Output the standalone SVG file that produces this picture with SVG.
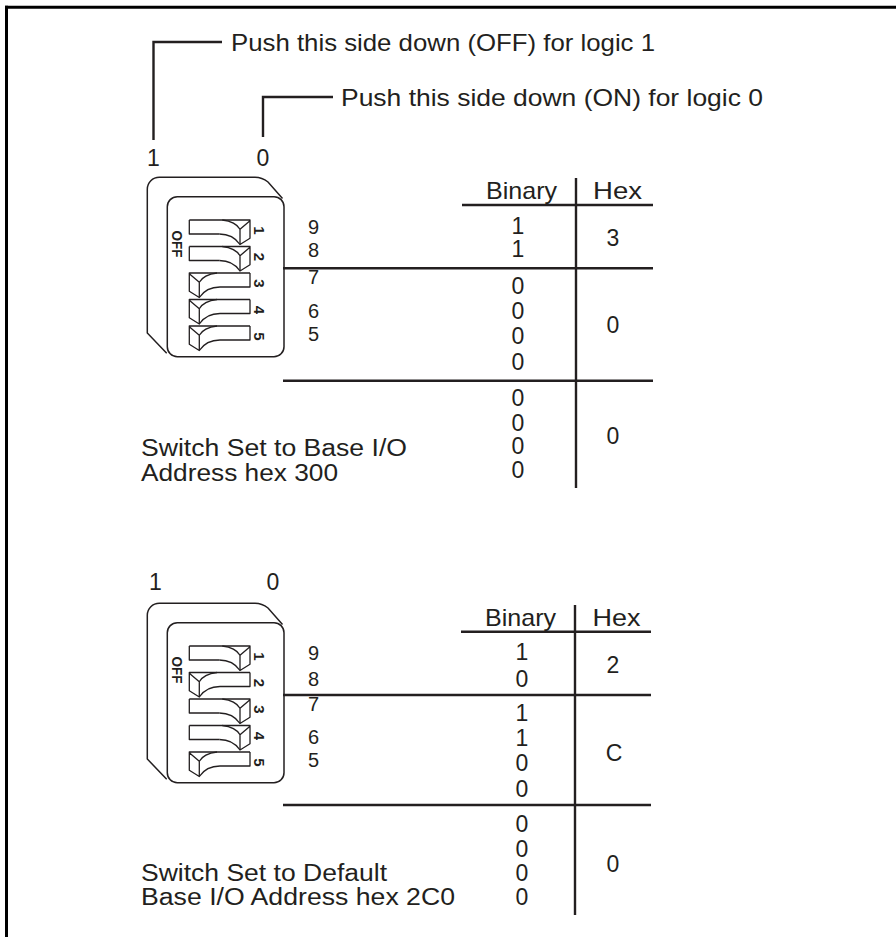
<svg xmlns="http://www.w3.org/2000/svg" xmlns:xlink="http://www.w3.org/1999/xlink" width="896" height="937" viewBox="0 0 896 937">
<style>
  .t { font-family: "Liberation Sans", Arial, Helvetica, sans-serif; font-size: 24px; fill: #231f20; }
  .c { font-family: "Liberation Sans", Arial, Helvetica, sans-serif; font-size: 23px; fill: #231f20; }
  .d { font-family: "Liberation Sans", Arial, Helvetica, sans-serif; font-size: 23px; fill: #231f20; text-anchor: middle; }
  .bit { font-family: "Liberation Sans", Arial, Helvetica, sans-serif; font-size: 20px; fill: #231f20; }
  .num { font-family: "Liberation Sans", Arial, Helvetica, sans-serif; font-size: 15px; font-weight: bold; fill: #231f20; text-anchor: middle; }
  .off { font-family: "Liberation Sans", Arial, Helvetica, sans-serif; font-size: 15px; font-weight: bold; fill: #231f20; text-anchor: middle; }
  .ln { stroke: #231f20; stroke-width: 2.4; fill: none; }
  .body { stroke: #231f20; stroke-width: 1.5; fill: none; }
  .sw { stroke: #231f20; stroke-width: 1.3; fill: none; stroke-linejoin: round; }
</style>
<defs>
  <g id="sw" class="sw">
    <path d="M0,0 H60.7 V18.3 L50.7,24.5 V9.3 L60.7,0.7"/>
    <path d="M0,0 V14 H30"/>
    <path d="M33,0 C42,1 48,4.5 50.7,9.3"/>
    <path d="M30,14 C39,14 46,17.5 50.7,24.5"/>
  </g>
  <g id="dipbody" class="body">
    <path d="M166.7,353.3 L147.3,333 V189.3 A12,12 0 0 1 159.3,177.3 H255 Q262,177.3 268,182 L282.5,198.5"/>
    <rect x="167.3" y="196.7" width="116.7" height="160" rx="10"/>
  </g>
</defs>

<g id="frame">
  <line x1="5" y1="7.3" x2="896" y2="7.3" stroke="#000" stroke-width="3"/>
  <line x1="6.5" y1="5.8" x2="6.5" y2="937" stroke="#000" stroke-width="3"/>
</g>

<g id="connectors">
  <path class="ln" d="M153.5,140 V42 H222"/>
  <path class="ln" d="M263,137 V97 H333"/>
</g>

<g id="callouts">
  <text class="t" x="231" y="50.5" textLength="424" lengthAdjust="spacingAndGlyphs">Push this side down (OFF) for logic 1</text>
  <text class="t" x="341" y="105.5" textLength="422" lengthAdjust="spacingAndGlyphs">Push this side down (ON) for logic 0</text>
</g>

<!-- ===== Top: base I/O hex 300 ===== -->
<g id="switch-top">
  <text class="d" x="153.5" y="166">1</text>
  <text class="d" x="263" y="166">0</text>
  <use xlink:href="#dipbody" href="#dipbody"/>
  <text class="off" x="171.7" y="244" transform="rotate(90 171.7 244)" textLength="27" lengthAdjust="spacingAndGlyphs">OFF</text>
  <use xlink:href="#sw" href="#sw" x="189.3" y="220"/>
  <use xlink:href="#sw" href="#sw" x="189.3" y="246.5"/>
  <use xlink:href="#sw" href="#sw" transform="translate(250,273) scale(-1,1)"/>
  <use xlink:href="#sw" href="#sw" transform="translate(250,299.5) scale(-1,1)"/>
  <use xlink:href="#sw" href="#sw" transform="translate(250,326) scale(-1,1)"/>
  <text class="num" x="254" y="230.5" transform="rotate(90 254 230.5)">1</text>
  <text class="num" x="254" y="257" transform="rotate(90 254 257)">2</text>
  <text class="num" x="254" y="283.5" transform="rotate(90 254 283.5)">3</text>
  <text class="num" x="254" y="310" transform="rotate(90 254 310)">4</text>
  <text class="num" x="254" y="336.5" transform="rotate(90 254 336.5)">5</text>
</g>

<g id="table-top">
  <line class="ln" x1="462" y1="205" x2="653" y2="205"/>
  <line class="ln" x1="576" y1="178" x2="576" y2="488"/>
  <line class="ln" x1="283" y1="268.3" x2="653" y2="268.3"/>
  <line class="ln" x1="283" y1="380.7" x2="653" y2="380.7"/>
  <text class="t" x="486" y="199.3" textLength="71" lengthAdjust="spacingAndGlyphs">Binary</text>
  <text class="t" x="593" y="199.3" textLength="49" lengthAdjust="spacingAndGlyphs">Hex</text>
  <text class="bit" x="308" y="234">9</text>
  <text class="bit" x="308" y="257.3">8</text>
  <text class="bit" x="308" y="284">7</text>
  <text class="bit" x="308" y="318">6</text>
  <text class="bit" x="308" y="341">5</text>
  <text class="d" x="518" y="234">1</text>
  <text class="d" x="518" y="257.3">1</text>
  <text class="d" x="518" y="294.3">0</text>
  <text class="d" x="518" y="319.3">0</text>
  <text class="d" x="518" y="344.3">0</text>
  <text class="d" x="518" y="370">0</text>
  <text class="d" x="518" y="405.7">0</text>
  <text class="d" x="518" y="430.7">0</text>
  <text class="d" x="518" y="454">0</text>
  <text class="d" x="518" y="478">0</text>
  <text class="d" x="613" y="246">3</text>
  <text class="d" x="613" y="332.7">0</text>
  <text class="d" x="613" y="444.3">0</text>
</g>

<g id="caption-top">
  <text class="c" x="141" y="456" textLength="266" lengthAdjust="spacingAndGlyphs">Switch Set to Base I/O</text>
  <text class="c" x="141" y="480.5" textLength="197" lengthAdjust="spacingAndGlyphs">Address hex 300</text>
</g>

<!-- ===== Bottom: default base I/O hex 2C0 ===== -->
<g id="switch-bottom">
  <text class="d" x="155.5" y="590">1</text>
  <text class="d" x="273" y="590">0</text>
  <use xlink:href="#dipbody" href="#dipbody" y="426"/>
  <text class="off" x="171.7" y="670" transform="rotate(90 171.7 670)" textLength="27" lengthAdjust="spacingAndGlyphs">OFF</text>
  <use xlink:href="#sw" href="#sw" x="189.3" y="646"/>
  <use xlink:href="#sw" href="#sw" transform="translate(250,672.5) scale(-1,1)"/>
  <use xlink:href="#sw" href="#sw" x="189.3" y="699"/>
  <use xlink:href="#sw" href="#sw" x="189.3" y="725.5"/>
  <use xlink:href="#sw" href="#sw" transform="translate(250,752) scale(-1,1)"/>
  <text class="num" x="254" y="656.5" transform="rotate(90 254 656.5)">1</text>
  <text class="num" x="254" y="683" transform="rotate(90 254 683)">2</text>
  <text class="num" x="254" y="709.5" transform="rotate(90 254 709.5)">3</text>
  <text class="num" x="254" y="736" transform="rotate(90 254 736)">4</text>
  <text class="num" x="254" y="762.5" transform="rotate(90 254 762.5)">5</text>
</g>

<g id="table-bottom">
  <line class="ln" x1="461" y1="631.7" x2="651" y2="631.7"/>
  <line class="ln" x1="575" y1="605" x2="575" y2="915"/>
  <line class="ln" x1="283" y1="695" x2="651" y2="695"/>
  <line class="ln" x1="283" y1="805" x2="651" y2="805"/>
  <text class="t" x="485" y="626" textLength="71" lengthAdjust="spacingAndGlyphs">Binary</text>
  <text class="t" x="592.5" y="626" textLength="48" lengthAdjust="spacingAndGlyphs">Hex</text>
  <text class="bit" x="308" y="660">9</text>
  <text class="bit" x="308" y="686">8</text>
  <text class="bit" x="308" y="711">7</text>
  <text class="bit" x="308" y="744">6</text>
  <text class="bit" x="308" y="767">5</text>
  <text class="d" x="522" y="660">1</text>
  <text class="d" x="522" y="687">0</text>
  <text class="d" x="522" y="720.5">1</text>
  <text class="d" x="522" y="746">1</text>
  <text class="d" x="522" y="771">0</text>
  <text class="d" x="522" y="797">0</text>
  <text class="d" x="522" y="832">0</text>
  <text class="d" x="522" y="857">0</text>
  <text class="d" x="522" y="881">0</text>
  <text class="d" x="522" y="905">0</text>
  <text class="d" x="613" y="673">2</text>
  <text class="d" x="614" y="760.5">C</text>
  <text class="d" x="613" y="872">0</text>
</g>

<g id="caption-bottom">
  <text class="c" x="141" y="880.5" textLength="246" lengthAdjust="spacingAndGlyphs">Switch Set to Default</text>
  <text class="c" x="141" y="905" textLength="314" lengthAdjust="spacingAndGlyphs">Base I/O Address hex 2C0</text>
</g>
</svg>
